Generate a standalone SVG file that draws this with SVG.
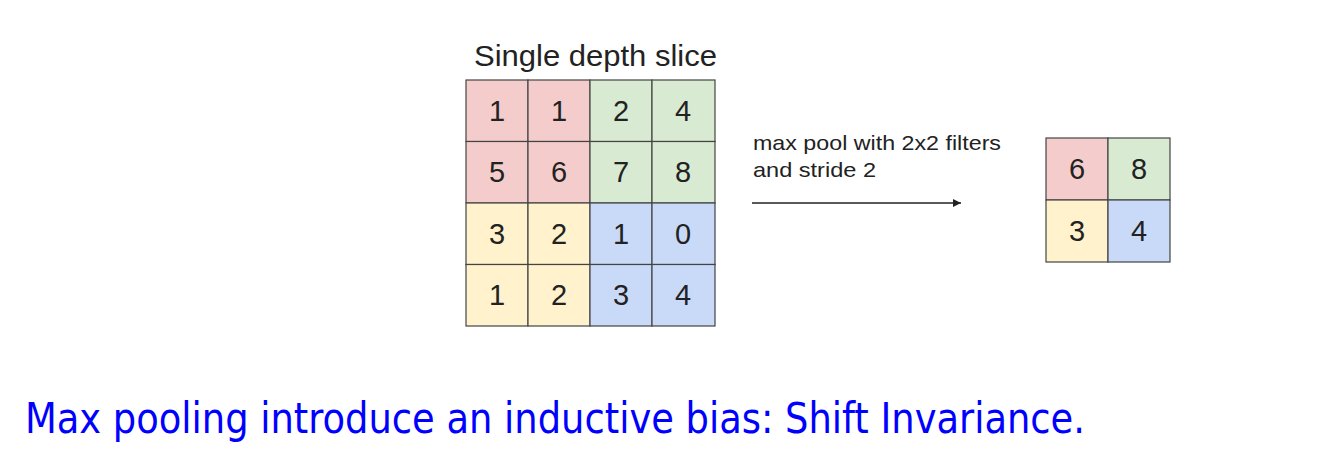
<svg xmlns="http://www.w3.org/2000/svg" width="1332" height="476" viewBox="0 0 1332 476">
<style>
.c{stroke:#444;stroke-width:1.2}
.r{fill:#f4cccc}.g{fill:#d9ead3}.y{fill:#fff2cc}.b{fill:#c9daf8}
.n{font-family:"Liberation Sans",Arial,sans-serif;font-size:29px;fill:#222;text-anchor:middle}
.t{font-family:"Liberation Sans",Arial,sans-serif;fill:#222}
</style>
<defs>
<marker id="ah" viewBox="0 0 10 10" refX="10" refY="5" markerWidth="11" markerHeight="8" markerUnits="userSpaceOnUse" orient="auto"><path d="M0,0L10,5L0,10z" fill="#222"/></marker>
</defs>
<rect width="1332" height="476" fill="#fff"/>
<g id="title"><text class="t" x="474" y="66" font-size="29" textLength="243" lengthAdjust="spacingAndGlyphs">Single depth slice</text></g>
<g id="input-grid">
<rect class="c r" x="466" y="80" width="62" height="61.5"/>
<rect class="c r" x="528" y="80" width="62" height="61.5"/>
<rect class="c g" x="590" y="80" width="62" height="61.5"/>
<rect class="c g" x="652" y="80" width="63" height="61.5"/>
<rect class="c r" x="466" y="141.5" width="62" height="61.5"/>
<rect class="c r" x="528" y="141.5" width="62" height="61.5"/>
<rect class="c g" x="590" y="141.5" width="62" height="61.5"/>
<rect class="c g" x="652" y="141.5" width="63" height="61.5"/>
<rect class="c y" x="466" y="203" width="62" height="61.5"/>
<rect class="c y" x="528" y="203" width="62" height="61.5"/>
<rect class="c b" x="590" y="203" width="62" height="61.5"/>
<rect class="c b" x="652" y="203" width="63" height="61.5"/>
<rect class="c y" x="466" y="264.5" width="62" height="61.5"/>
<rect class="c y" x="528" y="264.5" width="62" height="61.5"/>
<rect class="c b" x="590" y="264.5" width="62" height="61.5"/>
<rect class="c b" x="652" y="264.5" width="63" height="61.5"/>
<text class="n" x="497" y="121">1</text><text class="n" x="559" y="121">1</text><text class="n" x="621" y="121">2</text><text class="n" x="683" y="121">4</text>
<text class="n" x="497" y="182">5</text><text class="n" x="559" y="182">6</text><text class="n" x="621" y="182">7</text><text class="n" x="683" y="182">8</text>
<text class="n" x="497" y="244">3</text><text class="n" x="559" y="244">2</text><text class="n" x="621" y="244">1</text><text class="n" x="683" y="244">0</text>
<text class="n" x="497" y="305">1</text><text class="n" x="559" y="305">2</text><text class="n" x="621" y="305">3</text><text class="n" x="683" y="305">4</text>
</g>
<g id="connectors">
<line x1="752" y1="203" x2="961" y2="203" stroke="#222" stroke-width="1.5" marker-end="url(#ah)"/>
<text class="t" x="753" y="150" font-size="21" textLength="248" lengthAdjust="spacingAndGlyphs">max pool with 2x2 filters</text>
<text class="t" x="753" y="177" font-size="21" textLength="123" lengthAdjust="spacingAndGlyphs">and stride 2</text>
</g>
<g id="output-grid">
<rect class="c r" x="1046" y="138" width="62" height="62"/>
<rect class="c g" x="1108" y="138" width="62" height="62"/>
<rect class="c y" x="1046" y="200" width="62" height="62"/>
<rect class="c b" x="1108" y="200" width="62" height="62"/>
<text class="n" x="1077" y="179">6</text><text class="n" x="1139" y="179">8</text>
<text class="n" x="1077" y="241">3</text><text class="n" x="1139" y="241">4</text>
</g>
<g id="caption"><text x="25" y="433" font-family="'DejaVu Sans Condensed','Liberation Sans',sans-serif" font-size="42" fill="#0000ff" textLength="1060" lengthAdjust="spacingAndGlyphs">Max pooling introduce an inductive bias: Shift Invariance.</text></g>
</svg>
